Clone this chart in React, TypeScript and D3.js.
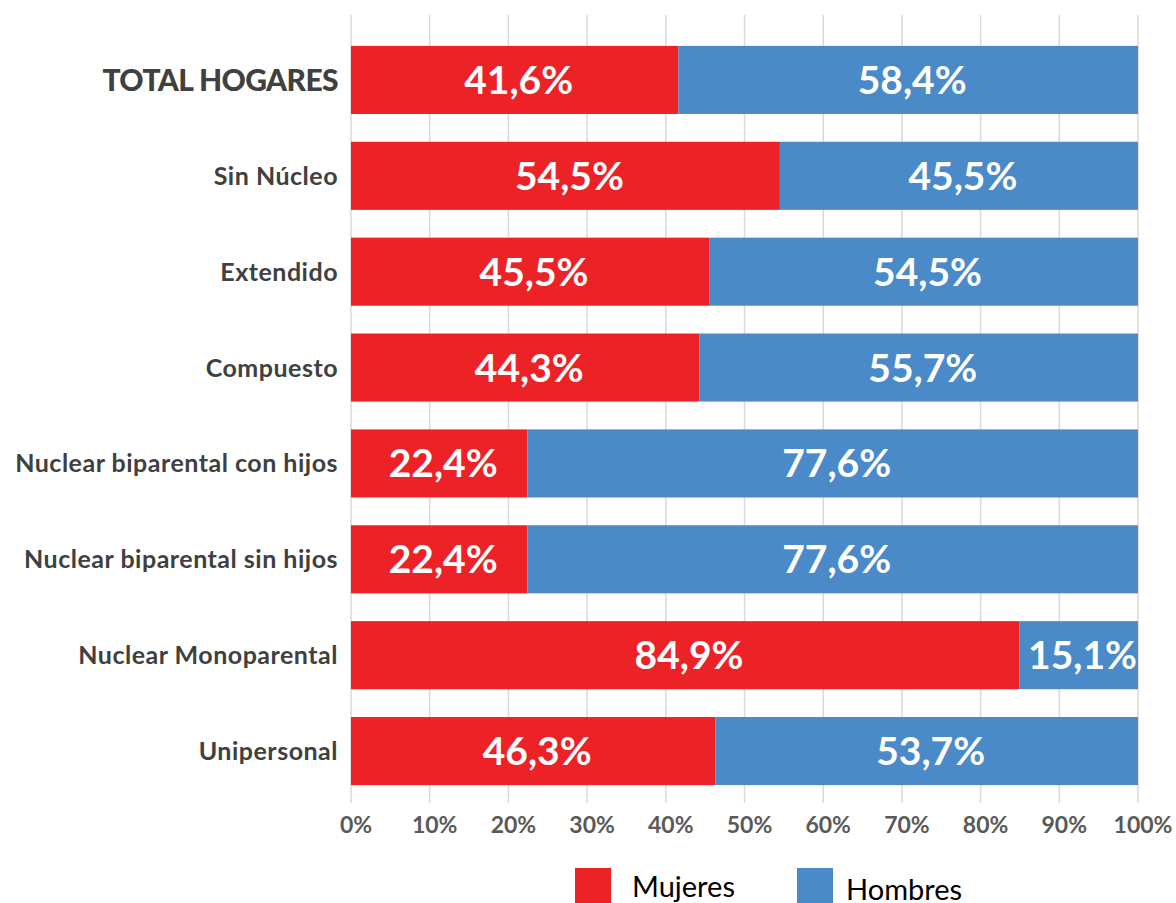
import React from "react";
import * as d3 from "d3";

const categories = [
  "TOTAL HOGARES",
  "Sin Núcleo",
  "Extendido",
  "Compuesto",
  "Nuclear biparental con hijos",
  "Nuclear biparental sin hijos",
  "Nuclear Monoparental",
  "Unipersonal",
];
const mujeres = [41.6, 54.5, 45.5, 44.3, 22.4, 22.4, 84.9, 46.3];
const hombres = [58.4, 45.5, 54.5, 55.7, 77.6, 77.6, 15.1, 53.7];
const ticks = [0, 10, 20, 30, 40, 50, 60, 70, 80, 90, 100];
const seriesNames = ["Mujeres", "Hombres"];

const RED = "#ED2227";
const BLUE = "#4A8AC8";
const FONT = "Lato, 'Open Sans', sans-serif";

export default function App() {
  const W = 1176;
  const H = 903;
  const x = d3.scaleLinear().domain([0, 100]).range([351, 1138]);
  const y = d3.scaleBand<string>().domain(categories).range([32, 799]).paddingInner(0.29).paddingOuter(0.145);
  const fmt = (v: number) => v.toFixed(1).replace(".", ",") + "%";

  return (
    <svg width={W} height={H} style={{ position: "absolute", left: 0, top: 0, background: "#fff" }}>
      {ticks.map((t) => (
        <line key={"g" + t} x1={x(t)} x2={x(t)} y1={15} y2={803} stroke="#D9D9D9" strokeWidth={1.5} />
      ))}
      {categories.map((c, i) => {
        const y0 = y(c) as number;
        const bh = y.bandwidth();
        const m = mujeres[i];
        const h = hombres[i];
        return (
          <g key={c}>
            <rect x={x(0)} y={y0} width={x(m) - x(0)} height={bh} fill={RED} />
            <rect x={x(m)} y={y0} width={x(m + h) - x(m)} height={bh} fill={BLUE} />
            <text x={(x(0) + x(m)) / 2 + 4} y={y0 + bh / 2} dy="0.36em" textAnchor="middle" fill="#fff" fontFamily={FONT} fontWeight={700} fontSize={39}>
              {fmt(m)}
            </text>
            <text x={(x(m) + x(m + h)) / 2 + 4} y={y0 + bh / 2} dy="0.36em" textAnchor="middle" fill="#fff" fontFamily={FONT} fontWeight={700} fontSize={39}>
              {fmt(h)}
            </text>
            <text
              x={338}
              y={y0 + bh / 2}
              dy="0.36em"
              textAnchor="end"
              fill="#404040"
              fontFamily={FONT}
              fontWeight={i === 0 ? 900 : 700}
              fontSize={i === 0 ? 30 : 25}
              letterSpacing={i === 0 ? -0.6 : 0.5}
            >
              {c}
            </text>
          </g>
        );
      })}
      {ticks.map((t) => (
        <text key={"t" + t} x={x(t) + 5} y={825} dy="0.36em" textAnchor="middle" fill="#595959" fontFamily={FONT} fontWeight={700} fontSize={23}>
          {t + "%"}
        </text>
      ))}
      <rect x={575} y={868} width={36} height={36} fill={RED} />
      <text x={632} y={897} fill="#000" fontFamily={FONT} fontSize={29}>
        {seriesNames[0]}
      </text>
      <rect x={797} y={868} width={36} height={36} fill={BLUE} />
      <text x={846} y={900} fill="#000" fontFamily={FONT} fontSize={29}>
        {seriesNames[1]}
      </text>
    </svg>
  );
}
